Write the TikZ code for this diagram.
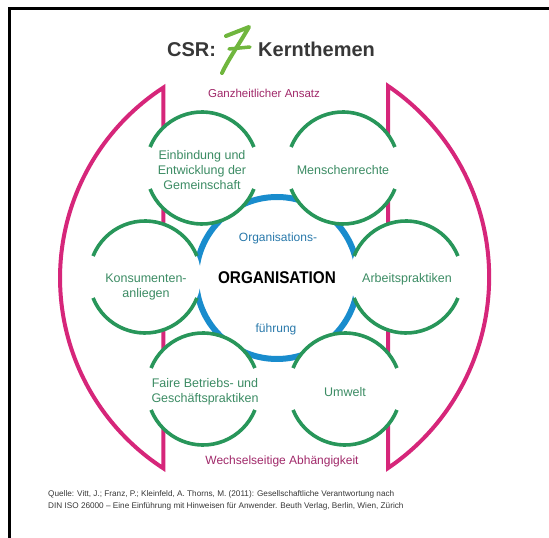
\documentclass[tikz,border=0pt]{standalone}
\usepackage{fontspec}
\setmainfont{Liberation Sans}
\usetikzlibrary{positioning}

\definecolor{csrpink}{RGB}{214,38,122}
\definecolor{csrpinktext}{RGB}{160,40,105}
\definecolor{csrgruen}{RGB}{40,150,90}
\definecolor{csrgruentext}{RGB}{60,140,100}
\definecolor{csrblau}{RGB}{25,140,205}
\definecolor{csrblautext}{RGB}{40,120,170}
\definecolor{csrhellgruen}{RGB}{112,182,62}
\definecolor{csrgrau}{RGB}{55,55,55}

\begin{document}
\begin{tikzpicture}
[x=1pt,y=1pt,
 thema/.style={circle,fill=white,inner sep=0pt,outer sep=0pt,minimum size=112pt},
 bogen/.style={draw=csrgruen,line width=3.6pt},
 themtext/.style={text=csrgruentext,align=center,font=\fontsize{12.5}{15}\selectfont},
 orgtext/.style={text=csrblautext,font=\fontsize{12}{14}\selectfont},
 klammer/.style={draw=csrpink,line width=4pt,line join=miter},
 pinktext/.style={text=csrpinktext,font=\fontsize{11.5}{14}\selectfont},
 titel/.style={text=csrgrau,inner sep=0pt,font=\fontsize{20}{24}\selectfont\bfseries}]

\useasboundingbox (0,0) rectangle (549,538);

% frame
\draw[line width=3pt] (549,529) -- (9,529) -- (9,0);

% title
\node[titel,anchor=base west] (csr) at (167,481) {CSR:};
\node[titel,anchor=base west] (kern) at (258,481) {Kernthemen};
\draw[csrhellgruen,line width=4pt,line cap=round,line join=round]
  (226,502) -- (249,511) .. controls (238,492) and (228,478) .. (222,465);
\draw[csrhellgruen,line width=3.5pt,line cap=round] (229,489) -- (250,491);

% brackets
\draw[klammer] (163.4,450.4) arc[start angle=123,end angle=237,radius=227] -- cycle;
\draw[klammer] (388,452) arc[start angle=55.8,end angle=-55.8,radius=231] -- cycle;
\node[pinktext] (ganz) at (264,445) {Ganzheitlicher Ansatz};
\node[pinktext,font=\fontsize{12}{14}\selectfont] (wechsel) at (282,77) {Wechselseitige Abhängigkeit};

% organisation ring
\node[circle,draw=csrblau,line width=6pt,minimum size=162pt,inner sep=0pt,text=black,
  font=\fontsize{17}{20}\selectfont\bfseries] (orga) at (277,260) {\scalebox{0.9}[1]{ORGANISATION}};
\node[orgtext] (oben) at (278,300) {Organisations-};
\node[orgtext] (unten) at (276,209) {führung};

% the seven topics
\foreach \n/\x/\y in {tl/202/370, tr/343/370, li/145/261, re/406/261, bl/203/149, br/345/149}
{
  \node[thema] (\n) at (\x,\y) {};
  \draw[bogen] (\n.22) arc[start angle=22,end angle=158,radius=56];
  \draw[bogen] (\n.202) arc[start angle=202,end angle=338,radius=56];
}

\node[themtext] (t-tl) at (202,368) {Einbindung und\\Entwicklung der\\Gemeinschaft};
\node[themtext] (t-tr) at (343,368) {Menschenrechte};
\node[themtext] (t-li) at (146,251) {Konsumenten-\\anliegen};
\node[themtext] (t-re) at (407,259) {Arbeitspraktiken};
\node[themtext] (t-bl) at (205,146) {Faire Betriebs- und\\Geschäftspraktiken};
\node[themtext] (t-br) at (345,146) {Umwelt};

% source
\node[anchor=west,align=left,text=csrgrau,inner sep=0pt,font=\fontsize{8.2}{12}\selectfont] (quelle) at (48,38)
  {Quelle: Vitt, J.; Franz, P.; Kleinfeld, A. Thorns, M. (2011): Gesellschaftliche Verantwortung nach\\
   DIN ISO 26000 -- Eine Einführung mit Hinweisen für Anwender. Beuth Verlag, Berlin, Wien, Zürich};

\end{tikzpicture}
\end{document}
